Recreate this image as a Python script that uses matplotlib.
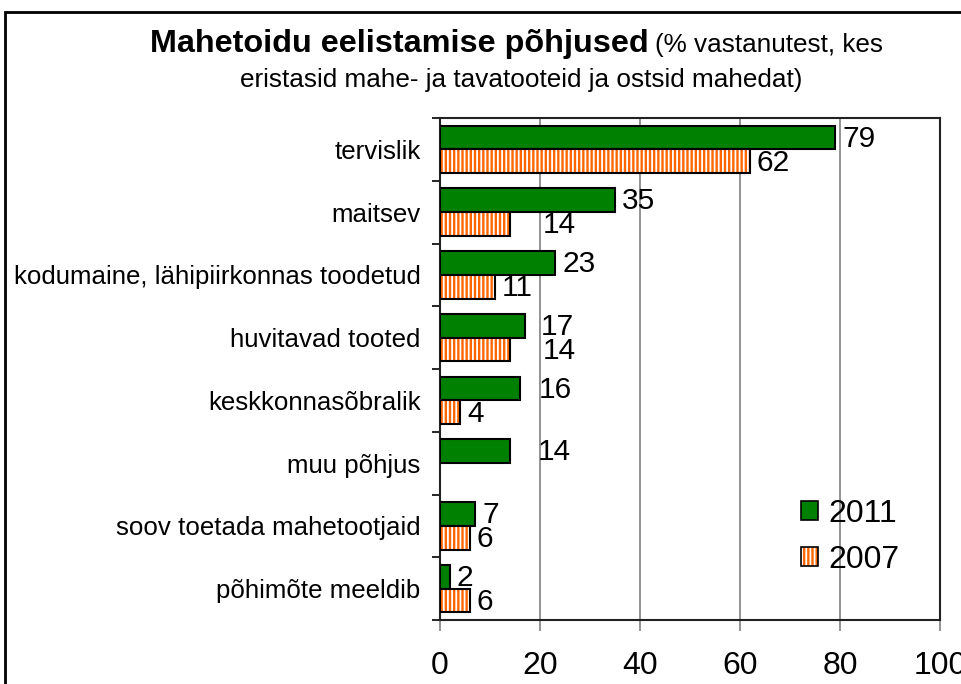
import numpy as np
import matplotlib.pyplot as plt
from matplotlib.patches import Patch, Rectangle

plt.rcParams['font.family'] = ['Liberation Sans', 'DejaVu Sans']
plt.rcParams['hatch.linewidth'] = 1.3

categories = ['tervislik', 'maitsev', 'kodumaine, lähipiirkonnas toodetud',
              'huvitavad tooted', 'keskkonnasõbralik', 'muu põhjus',
              'soov toetada mahetootjaid', 'põhimõte meeldib']
y2011 = [79, 35, 23, 17, 16, 14, 7, 2]
y2007 = [62, 14, 11, 14, 4, np.nan, 6, 6]
xticks = [0, 20, 40, 60, 80, 100]

green = '#008000'
orange = '#FF6600'

# labels that Excel had dragged off the bar end (series, index) -> x
moved = {('2011', 3): 20.2, ('2007', 1): 20.6, ('2007', 3): 20.6,
         ('2011', 4): 19.8, ('2011', 5): 19.6}

fig = plt.figure(figsize=(9.62, 6.84), dpi=100)
ax = fig.add_axes([440/962, 1-620/684, 500/962, 502/684])

pos = np.arange(len(categories))
h = 0.38
ax.barh(pos - h/2, y2011, height=h, color=green, edgecolor='black', lw=1.5, zorder=3)
ax.barh(pos + h/2, y2007, height=h, color=orange, edgecolor='white', lw=0,
        hatch='||||', zorder=3)
ax.barh(pos + h/2, y2007, height=h, fill=False, edgecolor='black', lw=1.5, zorder=4)

for i in range(len(categories)):
    for name, vals, dy in (('2011', y2011, -h/2), ('2007', y2007, h/2)):
        v = vals[i]
        if np.isnan(v):
            continue
        x = moved.get((name, i), v + 1.4)
        ax.text(x, pos[i] + dy + 0.02, f'{v:g}', va='center', ha='left',
                fontsize=21.5, zorder=5)

ax.set_xlim(0, 100)
ax.set_ylim(len(categories) - 0.5, -0.5)
ax.set_xticks(xticks)
ax.set_yticks(pos)
ax.set_yticklabels(categories, fontsize=18.6)
ax.set_yticks(np.arange(len(categories) + 1) - 0.5, minor=True)
ax.tick_params(axis='y', which='major', length=0, pad=14)
ax.tick_params(axis='y', which='minor', length=6, width=1.2, direction='out')
ax.tick_params(axis='x', length=8, width=1.2, color='#808080', pad=14, labelsize=23)
ax.grid(axis='x', color='#808080', lw=1.2, zorder=0)
for s in ax.spines.values():
    s.set_linewidth(1.5)
    s.set_color('#222222')

# legend
h11 = Patch(facecolor=green, edgecolor='black', lw=1.2)
h07 = (Patch(facecolor=orange, edgecolor='white', lw=0, hatch='||||'),
       Patch(fill=False, edgecolor='black', lw=1.2))
fig.legend([h11, h07], ['2011', '2007'], loc='upper left',
           bbox_to_anchor=(772/962, 1-470/684), frameon=False, fontsize=23,
           handlelength=0.55, handleheight=0.55, handletextpad=0.3,
           labelspacing=0.5)

# title
fig.text(649/962, 1-44/684, 'Mahetoidu eelistamise põhjused', ha='right',
         va='center', fontsize=23.3, fontweight='bold')
fig.text(655/962, 1-45/684, '(% vastanutest, kes', ha='left', va='center',
         fontsize=18.8)
fig.text(521/962, 1-80/684, 'eristasid mahe- ja tavatooteid ja ostsid mahedat)',
         ha='center', va='center', fontsize=18.8)

# outer chart frame
fig.patches.append(Rectangle((5/962, -0.1), 1.2, 1 - 12/684 + 0.1,
                             transform=fig.transFigure, fill=False,
                             edgecolor='black', lw=2))

fig.savefig('out.png', dpi=100)
